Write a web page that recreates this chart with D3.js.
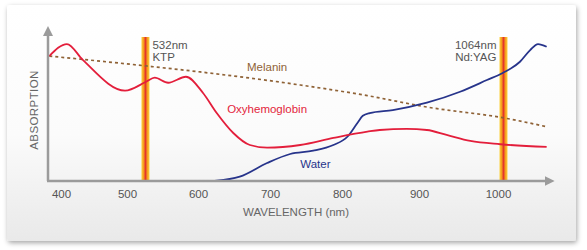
<!DOCTYPE html>
<html>
<head>
<meta charset="utf-8">
<script src="https://cdn.jsdelivr.net/npm/d3@7"></script>
<style>
  body { margin: 0; background: #fff; }
  text { font-family: "Liberation Sans", Arial, sans-serif; }
</style>
</head>
<body>
<script>
const w = 587;
const h = 250;

// absorption curves, [wavelength nm, relative absorption 0-100]
const oxyhemoglobin = [
  [382, 83.3], [409, 91.3], [433, 80.7], [497, 60.2], [527, 66.2], [539, 68.9],
  [558, 65.5], [583, 69.5], [607, 58.7], [626, 45.3], [649, 32], [672, 24],
  [696, 22.2], [742, 24], [788, 28.7], [833, 32.9], [849, 34], [884, 34.7],
  [910, 34], [935, 30.7], [965, 26.7], [1003, 24.5], [1062, 22.7]
];
const melanin = [
  [382, 83.3], [527, 76.7], [603, 72.7], [742, 64], [833, 56.9], [910, 49.3],
  [1008, 42], [1062, 36.2]
];
const water = [
  [610, 0], [626, 0.3], [658, 2.9], [696, 12], [728, 18], [760, 20.2],
  [788, 24], [807, 29.5], [820, 38.7], [827, 43.5], [836, 45.3], [866, 47.3],
  [910, 52.2], [952, 59.5], [986, 67.3], [1006, 72], [1028, 79.5], [1041, 87.3],
  [1051, 91.3], [1062, 89.5]
];
const tickValues = [400, 500, 600, 700, 800, 900, 1000];
// laser lines, placed where the picture draws them
const lasers = [
  { at: 526, label: "532nm", name: "KTP", side: "right" },
  { at: 1007, label: "1064nm", name: "Nd:YAG", side: "left" }
];
const seriesLabels = [
  { text: "Melanin", at: 696, v: 73.3, color: "#8f6236" },
  { text: "Oxyhemoglobin", at: 696, v: 45.3, color: "#e31e3b" },
  { text: "Water", at: 763, v: 8.7, color: "#27348b" }
];

const svg = d3.select("body").append("svg").attr("width", w).attr("height", h);
const defs = svg.append("defs");

const bg = defs.append("linearGradient").attr("id", "bg")
  .attr("x1", 0).attr("y1", 0).attr("x2", 0).attr("y2", 1);
bg.append("stop").attr("offset", "0%").attr("stop-color", "#ffffff");
bg.append("stop").attr("offset", "55%").attr("stop-color", "#fbfbfb");
bg.append("stop").attr("offset", "100%").attr("stop-color", "#e9e9e9");

const laserGrad = defs.append("linearGradient").attr("id", "laser")
  .attr("x1", 0).attr("y1", 0).attr("x2", 1).attr("y2", 0);
[["0%", "#fcd23f"], ["25%", "#f6a01f"], ["50%", "#e3342c"], ["75%", "#f6a01f"], ["100%", "#fcd23f"]]
  .forEach(([o, c]) => laserGrad.append("stop").attr("offset", o).attr("stop-color", c));

const shadow = defs.append("filter").attr("id", "shadow")
  .attr("x", "-5%").attr("y", "-5%").attr("width", "110%").attr("height", "115%");
shadow.append("feDropShadow").attr("dx", 1).attr("dy", 2).attr("stdDeviation", 2.5)
  .attr("flood-color", "#000").attr("flood-opacity", 0.35);

defs.append("marker").attr("id", "arrow")
  .attr("viewBox", "0 0 10 10").attr("refX", 2).attr("refY", 5)
  .attr("markerWidth", 4).attr("markerHeight", 4).attr("orient", "auto")
  .append("path").attr("d", "M0,0L10,5L0,10z").attr("fill", "#9b9b9b");

// card
svg.append("rect")
  .attr("x", 7).attr("y", 5).attr("width", 569).attr("height", 236)
  .attr("rx", 3).attr("fill", "url(#bg)").attr("filter", "url(#shadow)");

const x = d3.scaleLinear()
  .domain([380, 400, 500, 600, 700, 800, 900, 1000, 1065])
  .range([48, 61, 127, 198, 270, 342, 419, 498, 549]);
const y = d3.scaleLinear().domain([0, 100]).range([181, 31]);

// laser bars
svg.selectAll(".laser")
  .data(lasers)
  .enter()
  .append("rect")
  .attr("class", "laser")
  .attr("x", (d) => x(d.at) - 4)
  .attr("y", y(96))
  .attr("width", 8)
  .attr("height", y(0) - y(96))
  .attr("fill", "url(#laser)");

const laserText = svg.selectAll(".laserText")
  .data(lasers)
  .enter()
  .append("text")
  .attr("class", "laserText")
  .attr("fill", "#555")
  .attr("font-size", 11.5)
  .attr("text-anchor", (d) => (d.side === "right" ? "start" : "end"));
laserText.append("tspan")
  .attr("x", (d) => (d.side === "right" ? x(d.at) + 7 : x(d.at) - 7))
  .attr("y", 49)
  .text((d) => d.label);
laserText.append("tspan")
  .attr("x", (d) => (d.side === "right" ? x(d.at) + 7 : x(d.at) - 7))
  .attr("y", 61)
  .text((d) => d.name);

// curves
const line = d3.line()
  .x((d) => x(d[0]))
  .y((d) => y(d[1]))
  .curve(d3.curveMonotoneX);

svg.append("path").datum(melanin)
  .attr("d", line).attr("fill", "none")
  .attr("stroke", "#8f6236").attr("stroke-width", 1.7)
  .attr("stroke-dasharray", "3,3");
svg.append("path").datum(water)
  .attr("d", line).attr("fill", "none")
  .attr("stroke", "#27348b").attr("stroke-width", 1.8);
svg.append("path").datum(oxyhemoglobin)
  .attr("d", line).attr("fill", "none")
  .attr("stroke", "#e31e3b").attr("stroke-width", 1.8);

// axes
const axisG = svg.append("g").attr("transform", `translate(0, ${y(0)})`)
  .call(d3.axisBottom(x).tickValues(tickValues).tickFormat(d3.format("d"))
    .tickSize(0).tickPadding(9));
axisG.select(".domain").remove();
axisG.selectAll("text")
  .attr("font-size", 11.5)
  .attr("font-family", "Liberation Sans, Arial, sans-serif")
  .attr("fill", "#555");

svg.append("line")
  .attr("x1", x(380)).attr("y1", y(0)).attr("x2", x(380)).attr("y2", y(98))
  .attr("stroke", "#9b9b9b").attr("stroke-width", 2.5)
  .attr("marker-end", "url(#arrow)");
svg.append("line")
  .attr("x1", x(380) - 1).attr("y1", y(0)).attr("x2", x(1062)).attr("y2", y(0))
  .attr("stroke", "#9b9b9b").attr("stroke-width", 2.5)
  .attr("marker-end", "url(#arrow)");

svg.append("text")
  .attr("x", 296).attr("y", 216)
  .attr("text-anchor", "middle").attr("font-size", 11.5).attr("fill", "#666")
  .text("WAVELENGTH (nm)");
svg.append("text")
  .attr("transform", "translate(38, 110) rotate(-90)")
  .attr("text-anchor", "middle").attr("font-size", 11.5).attr("fill", "#666")
  .attr("letter-spacing", 0.4)
  .text("ABSORPTION");

svg.selectAll(".seriesLabel")
  .data(seriesLabels)
  .enter()
  .append("text")
  .attr("class", "seriesLabel")
  .attr("x", (d) => x(d.at))
  .attr("y", (d) => y(d.v))
  .attr("text-anchor", "middle")
  .attr("font-size", 11.5)
  .attr("fill", (d) => d.color)
  .text((d) => d.text);
</script>
</body>
</html>
